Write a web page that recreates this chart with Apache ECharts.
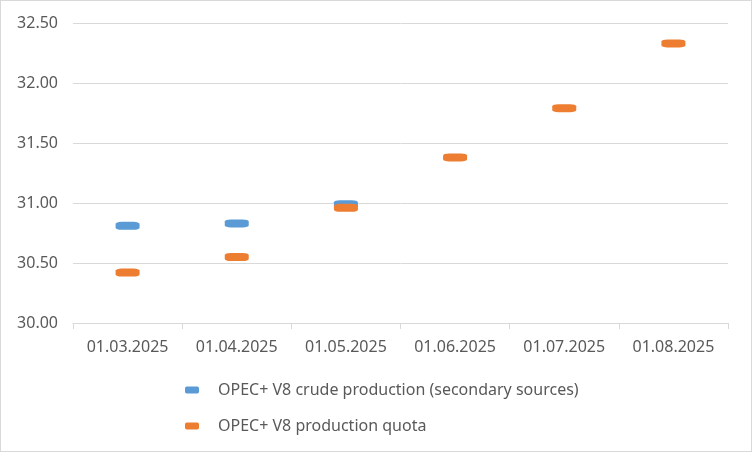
<!DOCTYPE html>
<html><head><meta charset="utf-8">
<script src="https://cdn.jsdelivr.net/npm/echarts@6/dist/echarts.min.js"></script>
<style>html,body{margin:0;padding:0;background:#fff}#c{width:752px;height:452px;box-sizing:border-box;border:1px solid #d9d9d9}</style>
</head><body><div id="c"></div>
<script>
const categories = ['01.03.2025','01.04.2025','01.05.2025','01.06.2025','01.07.2025','01.08.2025'];
const crudeProduction = [30.81, 30.83, 30.99, null, null, null];
const productionQuota = [30.42, 30.55, 30.96, 31.38, 31.79, 32.33];
const yTicks = {min: 30, max: 32.5, interval: 0.5};

const chart = echarts.init(document.getElementById('c'));
const font = '"Noto Sans", "Open Sans", sans-serif';
chart.setOption({
  animation: false,
  textStyle: {fontFamily: font},
  grid: {left: 72, right: 23, top: 22, bottom: 128, containLabel: false},
  legend: {
    orient: 'vertical', left: 179, top: 376, itemGap: 20,
    itemWidth: 14, itemHeight: 7,
    textStyle: {fontSize: 16, color: '#595959', fontFamily: font, padding: [0,0,0,14]},
    data: [
      {name: 'OPEC+ V8 crude production (secondary sources)', icon: 'roundRect'},
      {name: 'OPEC+ V8 production quota', icon: 'roundRect'}
    ]
  },
  xAxis: {
    type: 'category', data: categories, boundaryGap: true,
    axisLine: {lineStyle: {color: '#d9d9d9'}},
    axisTick: {show: true, length: 6, lineStyle: {color: '#d9d9d9'}},
    axisLabel: {fontSize: 16, color: '#595959', margin: 16, fontFamily: font}
  },
  yAxis: {
    type: 'value', min: yTicks.min, max: yTicks.max, interval: yTicks.interval,
    axisLine: {show: false}, axisTick: {show: false},
    splitLine: {lineStyle: {color: '#d9d9d9'}},
    axisLabel: {fontSize: 16, color: '#595959', margin: 15, fontFamily: font, formatter: v => v.toFixed(2)}
  },
  series: [
    {name: 'OPEC+ V8 crude production (secondary sources)', type: 'scatter', data: crudeProduction,
     symbol: 'roundRect', symbolSize: [24, 8], itemStyle: {color: '#5b9bd5', opacity: 1}, z: 2},
    {name: 'OPEC+ V8 production quota', type: 'scatter', data: productionQuota,
     symbol: 'roundRect', symbolSize: [24, 8], itemStyle: {color: '#ed7d31', opacity: 1}, z: 3}
  ]
});
</script></body></html>
